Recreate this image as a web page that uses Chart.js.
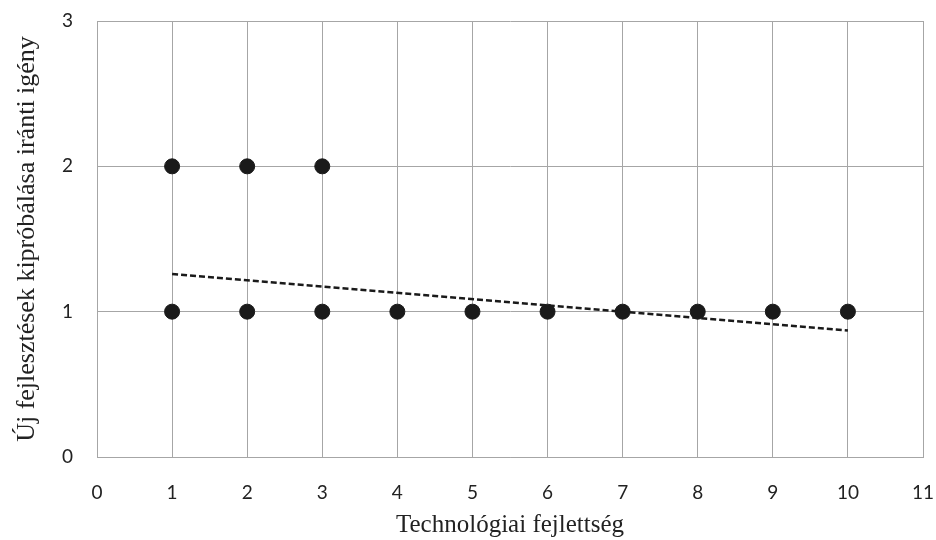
<!DOCTYPE html>
<html>
<head>
<meta charset="utf-8">
<script src="https://cdn.jsdelivr.net/npm/chart.js@4/dist/chart.umd.min.js"></script>
<style>
  html, body { margin: 0; padding: 0; background: #fff; }
  #wrap { width: 936px; height: 540px; }
</style>
</head>
<body>
<div id="wrap"><canvas id="chart"></canvas></div>
<script>
// data
var xValues = [1, 2, 3, 1, 2, 3, 4, 5, 6, 7, 8, 9, 10];
var yValues = [2, 2, 2, 1, 1, 1, 1, 1, 1, 1, 1, 1, 1];
var trendX = [1, 10];
var trendY = [1.26, 0.87];

var points = xValues.map(function (x, i) { return { x: x, y: yValues[i] }; });
var trend = trendX.map(function (x, i) { return { x: x, y: trendY[i] }; });

var gridGray = '#a6a6a6';

// drop the label overhang padding so the layout padding alone sets the plot box
function noOverhang(s) {
  s.paddingTop = 0; s.paddingBottom = 0; s.paddingLeft = 0; s.paddingRight = 0;
}

new Chart(document.getElementById('chart'), {
  type: 'scatter',
  data: {
    datasets: [
      {
        label: 'trend',
        data: trend,
        showLine: true,
        borderColor: '#1a1a1a',
        borderWidth: 2.5,
        borderDash: [6, 3],
        pointRadius: 0,
        fill: false
      },
      {
        label: 'adatok',
        data: points,
        backgroundColor: '#1a1a1a',
        borderColor: '#1a1a1a',
        pointRadius: 7.5,
        pointHoverRadius: 7.5
      }
    ]
  },
  options: {
    responsive: true,
    maintainAspectRatio: false,
    animation: false,
    layout: { padding: { top: 21, right: 13, left: 0, bottom: 0 } },
    plugins: { legend: { display: false }, tooltip: { enabled: false } },
    scales: {
      x: {
        type: 'linear',
        min: 0, max: 11,
        ticks: { stepSize: 1, color: '#222', padding: 24, font: { family: 'Lato', size: 19 } },
        grid: { color: gridGray, lineWidth: 1, drawTicks: false },
        border: { color: gridGray },
        title: {
          display: true,
          text: 'Technológiai fejlettség',
          color: '#222',
          font: { family: 'Liberation Serif', size: 25 },
          padding: { top: -4, bottom: 0 }
        },
        afterFit: function (s) { s.height = 83; noOverhang(s); }
      },
      y: {
        min: 0, max: 3,
        ticks: { stepSize: 1, color: '#222', padding: 24, font: { family: 'Lato', size: 19 } },
        grid: { color: gridGray, lineWidth: 1, drawTicks: false },
        border: { color: gridGray },
        title: {
          display: true,
          text: 'Új fejlesztések kipróbálása iránti igény',
          color: '#222',
          font: { family: 'Liberation Serif', size: 26 },
          padding: { top: 12, bottom: 0 }
        },
        afterFit: function (s) { s.width = 97; noOverhang(s); }
      }
    }
  }
});
</script>
</body>
</html>
